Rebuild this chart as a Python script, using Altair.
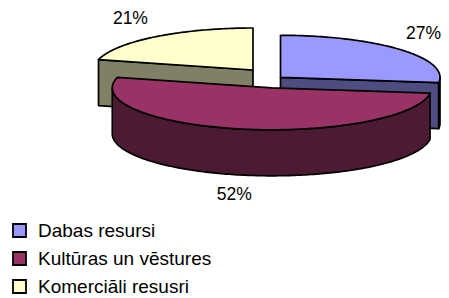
import math
import numpy as np
import pandas as pd
import altair as alt

# ---- data ----
categories = ["Dabas resursi", "Kultūras un vēstures", "Komerciāli resusri"]
values = [27, 52, 21]
top_colors = ["#9999FF", "#993366", "#FFFFCC"]
side_colors = ["#4D4D80", "#4D1A33", "#808066"]

# ---- layout / style (pixels in page space) ----
W, H = 433, 290
CX, CY = 269.0, 80.0          # pie centre (top face)
A, B = 159.5, 42.0            # ellipse semi-axes of the top face
DEPTH = 46.0                  # thickness of the 3-D pie
EXPLODE = [(11.5, -2.7), (2.8, 7.8), (-16.0, -10.0)]
LABEL_A, LABEL_B_BACK, LABEL_B_FRONT = 200.0, 58.5, 67.0
LABEL_SIZE = 17.5
FONT = "Liberation Sans"

total = float(sum(values))


def rim(px, py, t, dy=0.0):
    r = math.radians(t)
    return (px + A * math.sin(r), py - B * math.cos(r) + dy)


rows = []
label_rows = []
slices = []
start = 0.0
for i, (cat, v) in enumerate(zip(categories, values)):
    t1 = start
    t2 = start + 360.0 * v / total
    start = t2
    mid = (t1 + t2) / 2.0
    px, py = CX + EXPLODE[i][0], CY + EXPLODE[i][1]
    polys = []
    # radial cut faces turned towards the viewer
    for t, normal in ((t1, t1 - 90.0), (t2, t2 + 90.0)):
        if math.cos(math.radians(normal)) < -1e-6:
            rx, ry = rim(px, py, t)
            polys.append(("side", [(px, py), (rx, ry), (rx, ry + DEPTH), (px, py + DEPTH)]))
    # outer (cylindrical) side on the front half
    a0, a1 = max(t1, 90.0), min(t2, 270.0)
    if a1 > a0:
        ts = np.linspace(a0, a1, int(math.ceil(a1 - a0)) + 2)
        pts = [rim(px, py, t) for t in ts] + [rim(px, py, t, DEPTH) for t in ts[::-1]]
        polys.append(("side", pts))
    # top face
    ts = np.linspace(t1, t2, int(math.ceil(t2 - t1)) + 2)
    polys.append(("top", [(px, py)] + [rim(px, py, t) for t in ts]))
    slices.append((-math.cos(math.radians(mid)), i, polys))

    # label outside the slice, along its middle angle
    c = math.cos(math.radians(mid))
    if c >= 0:
        ly = py - LABEL_B_BACK * c
    else:
        ly = py - LABEL_B_FRONT * c + DEPTH
    lx = px + LABEL_A * math.sin(math.radians(mid))
    half = LABEL_SIZE * 1.0
    lx = min(max(lx, 8 + half), 8 + W - half)   # keep the text inside the view
    label_rows.append({"lx": lx, "ly": ly, "label": f"{v}%"})

slices.sort(key=lambda s: s[0])   # paint back slices first
pid = 0
poly_ids = []
for _, i, polys in slices:
    for kind, pts in polys:
        key = categories[i] if kind == "top" else categories[i] + " (sāni)"
        for k, (x, y) in enumerate(pts):
            rows.append({"pid": pid, "k": k, "x": x, "y": y, "key": key})
        poly_ids.append(pid)
        pid += 1

df = pd.DataFrame(rows)
labels_df = pd.DataFrame(label_rows)

xs = alt.Scale(domain=[8, 8 + W], nice=False, zero=False)
ys = alt.Scale(domain=[8, 8 + H], nice=False, zero=False, reverse=True)

fill_domain = categories + [c + " (sāni)" for c in categories]
fill_range = top_colors + side_colors

base = alt.Chart(df)
layers = []
for p in poly_ids:
    layers.append(
        base.transform_filter(alt.datum.pid == p)
        .mark_line(interpolate="linear-closed", stroke="black", strokeWidth=1.7, strokeJoin="round")
        .encode(
            x=alt.X("x:Q", scale=xs, axis=None),
            y=alt.Y("y:Q", scale=ys, axis=None),
            order=alt.Order("k:Q"),
            fill=alt.Fill(
                "key:N",
                scale=alt.Scale(domain=fill_domain, range=fill_range),
                legend=alt.Legend(
                    values=categories,
                    title=None,
                    orient="none",
                    legendX=2,
                    legendY=213,
                    symbolType="square",
                    symbolSize=169,
                    symbolStrokeColor="black",
                    symbolStrokeWidth=1.8,
                    labelFont=FONT,
                    labelFontSize=19,
                    labelColor="black",
                    labelLimit=400,
                    labelOffset=9,
                    rowPadding=7,
                ),
            ),
        )
    )

text = alt.Chart(labels_df).mark_text(
    font=FONT, fontSize=LABEL_SIZE, color="black", align="center", baseline="alphabetic"
).encode(
    x=alt.X("lx:Q", scale=xs, axis=None),
    y=alt.Y("ly:Q", scale=ys, axis=None),
    text="label:N",
)

chart = alt.layer(*layers, text).properties(
    width=W,
    height=H,
    padding=0,
    autosize=alt.AutoSizeParams(type="none"),
    background="white",
).configure_view(stroke=None)

chart.save("out.html", embed_options={"renderer": "svg", "actions": False})
